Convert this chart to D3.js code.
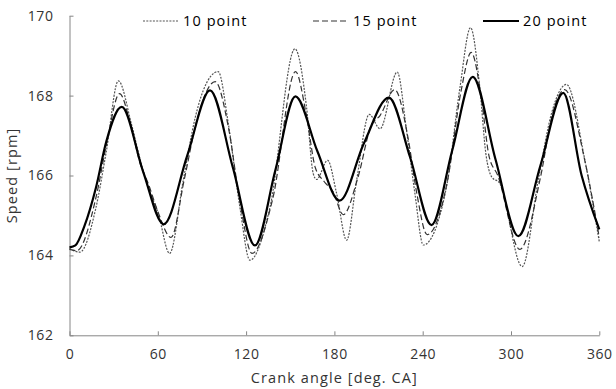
<!DOCTYPE html>
<html>
<head>
<meta charset="utf-8">
<script src="https://cdn.jsdelivr.net/npm/d3@7"></script>
<style>
  body { margin: 0; background: #fff; }
  svg { display: block; font-family: "Open Sans", sans-serif; }
</style>
</head>
<body>
<svg id="chart" width="616" height="389"></svg>
<script>
// données (vitesse en rpm selon l'angle vilebrequin)
const xTicks = [0, 60, 120, 180, 240, 300, 360];
const yTicks = [162, 164, 166, 168, 170];

const angle10 = [0, 7, 18, 25, 33.2, 42, 48, 53.5, 60.3, 68, 77.3, 85.3, 90.9, 101, 107.9, 115.8, 122.6, 136.2, 153.2, 161.1, 165.6, 167.9, 175.4, 181.5, 188.3, 195.1, 203.7, 211, 222.7, 229, 234.7, 240.4, 256.2, 265.3, 272.5, 278.8, 282.9, 286.8, 292.4, 307.6, 318.5, 327.5, 337.7, 350.2, 360];
const speed10 = [164.17, 164.08, 165.2, 166.6, 168.37, 167.3, 166.4, 165.7, 165.05, 164.05, 165.88, 167.43, 168.13, 168.6, 167.3, 165.2, 163.88, 165.2, 169.17, 167.7, 166.05, 165.9, 166.38, 165.55, 164.38, 165.88, 167.53, 167.17, 168.59, 167.13, 165.55, 164.26, 165.72, 168.2, 169.7, 168.2, 166.55, 165.97, 165.8, 163.72, 165.88, 167.55, 168.28, 166.38, 164.34];

const angle15 = [0, 5, 18, 25, 34, 42, 48, 53.5, 60, 69, 78, 86, 99, 108, 116, 124, 138, 153.6, 161, 167, 173, 179, 186, 196, 205, 211, 221, 230, 236, 243, 257, 266, 273, 280, 285, 291, 306, 320, 328, 336.5, 350, 360];
const speed15 = [164.15, 164.12, 165.45, 166.75, 168.05, 167.2, 166.3, 165.8, 165.1, 164.45, 165.9, 167.3, 168.35, 167.2, 165.3, 164.05, 165.4, 168.6, 167.5, 166.2, 165.85, 165.6, 165.02, 165.95, 167.25, 167.5, 168.15, 166.95, 165.55, 164.52, 165.9, 168.1, 169.08, 167.9, 166.5, 166.0, 164.15, 165.95, 167.5, 168.15, 166.4, 164.45];

const angle20 = [0, 4, 10, 18, 25, 35.5, 50, 64, 80, 95.5, 111, 126, 140, 153.5, 168.5, 183.5, 200, 217, 231.5, 246, 260, 274, 289.5, 305, 320, 335.5, 348, 360];
const speed20 = [164.2, 164.25, 164.72, 165.7, 166.85, 167.72, 166.1, 164.78, 166.5, 168.13, 166.2, 164.25, 166.15, 167.98, 166.6, 165.37, 166.8, 167.95, 166.45, 164.76, 166.62, 168.47, 166.4, 164.48, 166.25, 168.07, 166.0, 164.65];

const series = [
  { name: "10 point", angles: angle10, values: speed10, color: "#555", width: 1.2, dash: "2,1.3" },
  { name: "15 point", angles: angle15, values: speed15, color: "#333", width: 1.2, dash: "6,3" },
  { name: "20 point", angles: angle20, values: speed20, color: "#000", width: 2.2, dash: null }
];

const margin = { left: 69.5, right: 16.7, top: 15.7, bottom: 53.7 };
const width = 616, height = 389;

const svg = d3.select("#chart");

const x = d3.scaleLinear().domain([0, 360]).range([margin.left, width - margin.right]);
const y = d3.scaleLinear().domain([162, 170]).range([height - margin.bottom, margin.top]);

const axisColor = "#868686";
const textColor = "#333";

// axe X
const gx = svg.append("g")
    .attr("transform", `translate(0,${height - margin.bottom})`)
    .call(d3.axisBottom(x).tickValues(xTicks).tickSizeInner(-4).tickSizeOuter(0).tickPadding(14));

// axe Y
const gy = svg.append("g")
    .attr("transform", `translate(${margin.left},0)`)
    .call(d3.axisLeft(y).tickValues(yTicks).tickSizeInner(-4).tickSizeOuter(0).tickPadding(16));

for (const g of [gx, gy]) {
  g.select(".domain").attr("stroke", axisColor);
  g.selectAll(".tick line").attr("stroke", axisColor);
  g.selectAll(".tick text")
      .attr("fill", textColor)
      .style("font-size", "14px")
      .style("letter-spacing", "0.6px")
      .style("font-family", "'Open Sans', sans-serif");
}

// titres des axes
svg.append("text")
    .attr("x", (margin.left + width - margin.right) / 2)
    .attr("y", 383)
    .attr("text-anchor", "middle")
    .attr("fill", textColor)
    .style("font-size", "14.5px")
    .style("letter-spacing", "1.1px")
    .text("Crank angle [deg. CA]");

svg.append("text")
    .attr("transform", `translate(17,${(margin.top + height - margin.bottom) / 2}) rotate(-90)`)
    .attr("text-anchor", "middle")
    .attr("fill", textColor)
    .style("font-size", "14.5px")
    .style("letter-spacing", "1.1px")
    .text("Speed [rpm]");

// courbes
const line = d3.line()
    .x(d => x(d[0]))
    .y(d => y(d[1]))
    .curve(d3.curveMonotoneX);

svg.append("g")
    .attr("fill", "none")
  .selectAll("path")
  .data(series)
  .join("path")
    .attr("stroke", d => d.color)
    .attr("stroke-width", d => d.width)
    .attr("stroke-dasharray", d => d.dash)
    .attr("d", d => line(d.angles.map((a, i) => [a, d.values[i]])));

// légende
const legendX = [143, 313, 483];
const legend = svg.append("g")
  .selectAll("g")
  .data(series)
  .join("g")
    .attr("transform", (d, i) => `translate(${legendX[i]},21)`);

legend.append("line")
    .attr("x1", 0)
    .attr("x2", 36)
    .attr("stroke", d => d.color)
    .attr("stroke-width", d => d.width)
    .attr("stroke-dasharray", d => d.dash);

legend.append("text")
    .attr("x", 40)
    .attr("dy", "0.35em")
    .attr("fill", "#000")
    .style("font-size", "14.5px")
    .style("letter-spacing", "1.1px")
    .text(d => d.name);
</script>
</body>
</html>
